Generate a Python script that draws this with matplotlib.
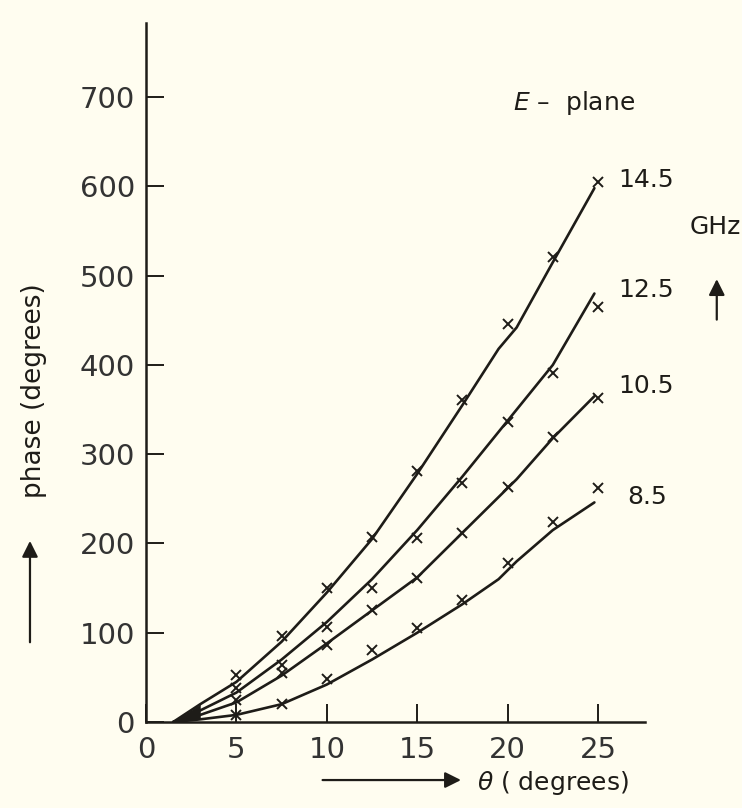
import numpy as np
import matplotlib
matplotlib.use("Agg")
import matplotlib.pyplot as plt

# measured points (x marks), theta in degrees
theta = [5, 7.5, 10, 12.5, 15, 17.5, 20, 22.5, 25]
phase_145 = [53, 96, 150, 207, 281, 361, 446, 521, 605]
phase_125 = [38, 64, 106, 150, 206, 268, 336, 391, 465]
phase_105 = [25, 55, 86, 125, 161, 212, 263, 319, 363]
phase_85 = [8, 20, 48, 81, 105, 137, 178, 224, 262]

# hand-drawn smooth curves
curve_theta = [1.5, 3.0, 5, 7.5, 10, 12.5, 15, 17.5, 19.5, 20.5, 22.5, 24.8]
curve_145 = [0, 20, 45, 90, 145, 205, 278, 355, 418, 442, 515, 598]
curve_125 = [0, 13, 33, 70, 112, 160, 215, 275, 325, 350, 400, 480]
curve_105 = [0, 8, 22, 52, 88, 125, 162, 212, 252, 272, 318, 365]
curve_85 = [0, 3, 8, 20, 42, 70, 100, 132, 160, 180, 215, 246]

freq_labels = ["14.5", "12.5", "10.5", "8.5"]
label_y = [607, 484, 376, 252]

ink = "#1e1c18"
paper = "#fffdf0"

fig = plt.figure(figsize=(7.42, 8.08), dpi=100, facecolor=paper)
ax = fig.add_axes([0.1968, 0.1064, 0.6725, 0.8651])
ax.set_facecolor(paper)

series = [(curve_145, phase_145), (curve_125, phase_125),
          (curve_105, phase_105), (curve_85, phase_85)]
for curve, pts in series:
    ax.plot(curve_theta, curve, color=ink, lw=1.9, solid_capstyle="round")
    ax.plot(theta, pts, ls="none", marker="x", ms=7, mew=1.4, color=ink)

# the curves merge into a dark wedge near the origin
ax.fill_between(curve_theta[:2], curve_85[:2], curve_145[:2],
                color=ink, lw=0)

ax.set_xlim(0, 27.6)
ax.set_ylim(0, 783)
ax.set_xticks([0, 5, 10, 15, 20, 25])
ax.set_yticks([0, 100, 200, 300, 400, 500, 600, 700])
ax.tick_params(direction="in", length=13, width=1.4, colors=ink,
               labelsize=21, labelcolor="#333")
ax.tick_params(axis="x", pad=10)
ax.tick_params(axis="y", pad=8)
for s in ["top", "right"]:
    ax.spines[s].set_visible(False)
for s in ["left", "bottom"]:
    ax.spines[s].set_linewidth(1.8)
    ax.spines[s].set_color(ink)

# curve labels
for lab, yv in zip(freq_labels, label_y):
    ax.text(26.1 if lab != "8.5" else 26.6, yv, lab, fontsize=18,
            color=ink, va="center", ha="left", clip_on=False)
ax.text(20.3, 693, r"$E$" + " \u2013  plane", fontsize=18, color=ink,
        va="center", ha="left", clip_on=False)

fig.text(0.9636, 0.719, "GHz", fontsize=18, color=ink, ha="center", va="center")
fig.add_artist(matplotlib.patches.FancyArrowPatch(
    (0.966, 0.601), (0.966, 0.658), transform=fig.transFigure,
    arrowstyle="-|>", mutation_scale=24, lw=1.6, color=ink))

# axis labels with arrows
fig.text(0.046, 0.517, "phase (degrees)", fontsize=19, color=ink,
         rotation=90, ha="center", va="center")
fig.add_artist(matplotlib.patches.FancyArrowPatch(
    (0.0404, 0.2017), (0.0404, 0.334), transform=fig.transFigure,
    arrowstyle="-|>", mutation_scale=24, lw=1.6, color=ink))

fig.text(0.745, 0.031, r"$\theta$" + " ( degrees)", fontsize=18, color=ink,
         ha="center", va="center")
fig.add_artist(matplotlib.patches.FancyArrowPatch(
    (0.431, 0.0346), (0.625, 0.0346), transform=fig.transFigure,
    arrowstyle="-|>", mutation_scale=24, lw=1.6, color=ink))

fig.savefig("out.png", dpi=100, facecolor=paper)
